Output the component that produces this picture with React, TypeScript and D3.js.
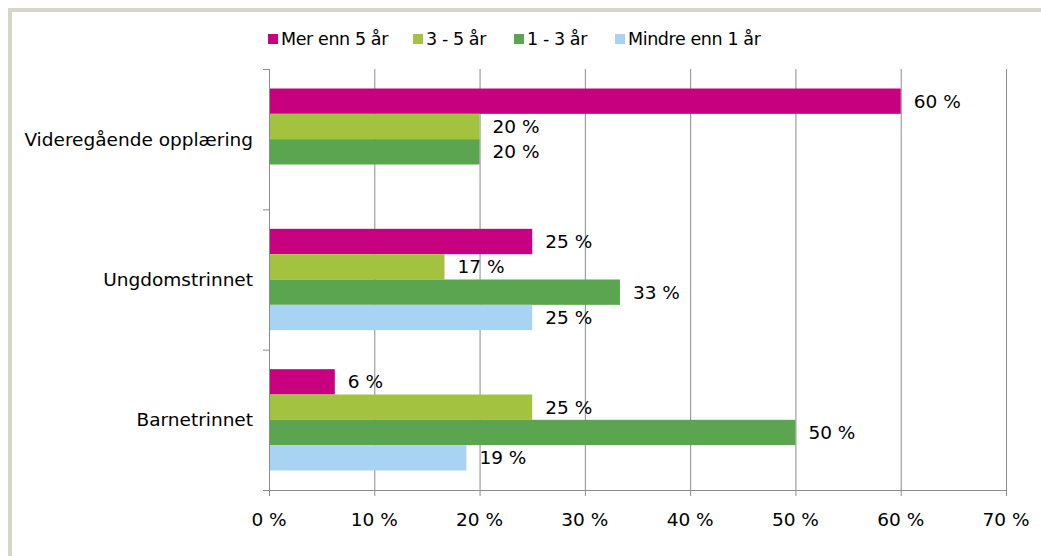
import React from "react";
import * as d3 from "d3";

const categories = ["Videregående opplæring", "Ungdomstrinnet", "Barnetrinnet"];
const seriesNames = ["Mer enn 5 år", "3 - 5 år", "1 - 3 år", "Mindre enn 1 år"];
const seriesColors = ["#c6007e", "#a3c23f", "#5ba550", "#a9d3f2"];
const merEnn5 = [60, 25, 6.25];
const tre5 = [20, 16.67, 25];
const en3 = [20, 33.33, 50];
const mindreEnn1 = [0, 25, 18.75];
const xTicks = [0, 10, 20, 30, 40, 50, 60, 70];

const seriesValues = [merEnn5, tre5, en3, mindreEnn1];

export default function App() {
  const W = 1041, H = 556;
  const left = 269, right = 1006, top = 69, bottom = 490;
  const x = d3.scaleLinear().domain([0, 70]).range([left, right]);
  const y = d3.scaleBand<string>().domain(categories).range([top, bottom]).padding(0);
  const inner = d3.scaleBand<string>().domain(seriesNames).range([0, y.bandwidth()]).paddingInner(0).paddingOuter(0.77);
  const font = "'DejaVu Sans', Verdana, sans-serif";
  const grid = "#8c8c8c";
  const legendX = [268, 413, 514, 615];
  const fs = 18.5;

  return (
    <svg width={W} height={H} style={{ position: "absolute", left: 0, top: 0 }} fontFamily={font}>
      <rect x={0} y={0} width={W} height={H} fill="#fff" />
      <rect x={10} y={10} width={W + 10} height={H + 10} fill="none" stroke="#d5d5cd" strokeWidth={4} />
      {/* legend */}
      {seriesNames.map((s, i) => (
        <g key={s}>
          <rect x={legendX[i]} y={34} width={10} height={10} fill={seriesColors[i]} />
          <text x={legendX[i] + 13} y={45} fontSize={17.5} letterSpacing={-0.4} fill="#000">{s}</text>
        </g>
      ))}
      {/* gridlines */}
      {xTicks.slice(1).map((t) => (
        <line key={t} x1={x(t) + 0.5} x2={x(t) + 0.5} y1={top} y2={bottom} stroke={grid} strokeWidth={1} />
      ))}
      {/* bars */}
      {categories.map((c, ci) => (
        <g key={c}>
          {seriesNames.map((s, si) => {
            const v = seriesValues[si][ci];
            if (!v) return null;
            const by = (y(c) as number) + (inner(s) as number);
            const bh = inner.bandwidth();
            return (
              <g key={s}>
                <rect x={x(0)} y={by} width={x(v) - x(0)} height={bh} fill={seriesColors[si]} />
                <text x={x(v) + 13} y={by + bh / 2} dy="0.36em" fontSize={fs} fill="#000">
                  {Math.round(v)} %
                </text>
              </g>
            );
          })}
          <text x={253} y={(y(c) as number) + y.bandwidth() / 2} dy="0.36em" textAnchor="end" fontSize={fs} fill="#000">
            {c}
          </text>
        </g>
      ))}
      {/* y axis */}
      <line x1={left + 0.5} x2={left + 0.5} y1={top} y2={bottom} stroke={grid} strokeWidth={1} />
      {[...categories.map((c) => y(c) as number), bottom].map((ty, i) => (
        <line key={i} x1={263} x2={left} y1={ty + 0.5} y2={ty + 0.5} stroke={grid} strokeWidth={1} />
      ))}
      {/* x axis */}
      <line x1={263} x2={right + 0.5} y1={bottom + 0.5} y2={bottom + 0.5} stroke={grid} strokeWidth={1} />
      {xTicks.map((t) => (
        <g key={t}>
          <line x1={x(t) + 0.5} x2={x(t) + 0.5} y1={bottom} y2={bottom + 6} stroke={grid} strokeWidth={1} />
          <text x={x(t)} y={526} textAnchor="middle" fontSize={fs} fill="#000">{t} %</text>
        </g>
      ))}
    </svg>
  );
}
